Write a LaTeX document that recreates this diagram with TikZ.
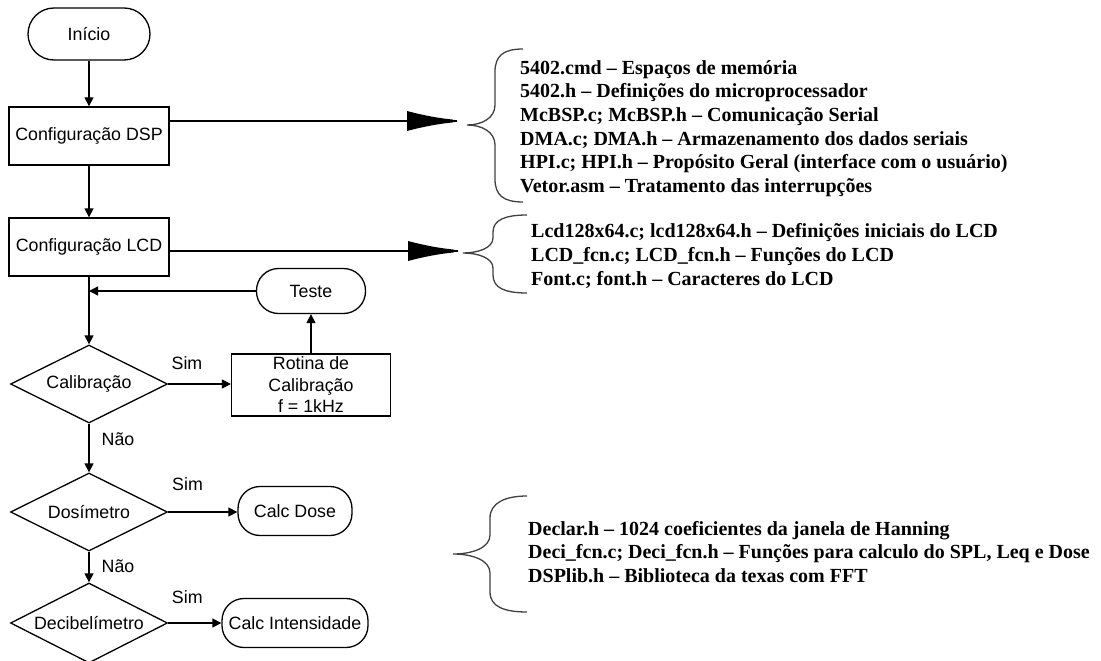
\documentclass[tikz,border=0pt]{standalone}
\usepackage{fontspec}
\setmainfont{Liberation Serif}
\setsansfont{Liberation Sans}
\usetikzlibrary{shapes.geometric,arrows.meta}

\begin{document}
\begin{tikzpicture}[
  x=1pt, y=-1pt,
  every node/.style={font=\sffamily\fontsize{17.8}{21.5}\selectfont},
  terminal/.style={draw, rectangle, rounded corners=22pt, line width=1.3pt,
    inner sep=0pt, minimum height=49pt},
  process/.style={draw, rectangle, line width=1.3pt, inner sep=0pt,
    minimum width=160pt, minimum height=58pt, align=center},
  decision/.style={draw, diamond, aspect=2, line width=1.3pt, inner sep=0pt,
    minimum width=157pt, minimum height=78pt},
  flow/.style={line width=1.3pt, -{Triangle[length=9pt,width=9pt]}},
  link/.style={line width=1.3pt},
  brace/.style={line width=1.3pt, draw=black!75},
  filelist/.style={anchor=west, align=left, inner sep=0pt,
    font=\bfseries\fontsize{20}{23.7}\selectfont},
  bighead/.pic={
    \fill (0,-10) .. controls (15,-6) and (30,-3) .. (45,-1.5) -- (50,0)
      -- (45,1.5) .. controls (30,3) and (15,6) .. (0,10) -- cycle;
  }
]
\useasboundingbox (0,0) rectangle (1101,661);

% main flow
\node[terminal, rounded corners=26pt, minimum width=122pt, minimum height=52pt] (inicio) at (89,34) {Início};
\node[process] (dsp) at (89,136) {Configuração DSP};
\node[process] (lcd) at (89,247) {Configuração LCD};
\node[decision] (calib) at (89,384) {Calibração};
\node[decision] (dosim) at (89,512) {Dosímetro};
\node[decision, minimum height=80pt] (decib) at (89,623) {Decibelímetro};

% side branches
\node[terminal, minimum width=109pt, minimum height=45pt] (teste) at (311,291) {Teste};
\node[process, minimum width=159pt, minimum height=62pt] (rotina) at (311,385) {Rotina de\\Calibração\\f = 1kHz};
\node[terminal, minimum width=114pt] (dose) at (295,511) {Calc Dose};
\node[terminal, minimum width=146pt] (intens) at (295,623) {Calc Intensidade};

\draw[flow] (inicio) -- (dsp);
\draw[flow] (dsp) -- (lcd);
\draw[flow] (lcd) -- (calib);
\draw[flow] (teste.west) -- (teste.west -| lcd.south);
\draw[flow] (rotina) -- (teste);
\draw[flow] (calib.east) -- node[pos=0.3, yshift=21pt] {Sim} (calib.east -| rotina.west);
\draw[flow] (calib) -- node[pos=0.32, xshift=29pt] {Não} (dosim);
\draw[flow] (dosim.east) -- node[pos=0.28, yshift=28pt] {Sim} (dosim.east -| dose.west);
\draw[flow] (dosim) -- node[pos=0.48, xshift=29pt] {Não} (decib);
\draw[flow] (decib.east) -- node[pos=0.36, yshift=26pt] {Sim} (decib.east -| intens.west);

% source files
\coordinate (dspend) at (457,121);
\coordinate (lcdend) at (458,251);
\draw[link] (dsp.east |- dspend) -- (dspend);
\pic at (407,121) {bighead};
\draw[link] (lcd.east |- lcdend) -- (lcdend);
\pic at (408,251) {bighead};

\draw[brace] (523,49) .. controls (503,49) and (495,56) .. (495,72) -- (495,105)
  .. controls (495,118) and (482,125) .. (467,125)
  .. controls (482,125) and (495,132) .. (495,145) -- (495,179)
  .. controls (495,195) and (503,202) .. (523,202);
\draw[brace] (527,215) .. controls (505,215) and (493,220) .. (493,232) -- (493,238)
  .. controls (493,248) and (478,253) .. (463,253)
  .. controls (478,253) and (493,258) .. (493,268) -- (493,275)
  .. controls (493,288) and (505,293) .. (527,293);
\draw[brace] (527,496) .. controls (505,496) and (490,503) .. (490,518) -- (490,535)
  .. controls (490,548) and (472,554) .. (453,554)
  .. controls (472,554) and (490,560) .. (490,573) -- (490,592)
  .. controls (490,607) and (505,612) .. (527,612);

\node[filelist] (dspfiles) at (520,128.5) {5402.cmd – Espaços de memória\\
  5402.h – Definições do microprocessador\\
  McBSP.c; McBSP.h – Comunicação Serial\\
  DMA.c; DMA.h – Armazenamento dos dados seriais\\
  HPI.c; HPI.h – Propósito Geral (interface com o usuário)\\
  Vetor.asm – Tratamento das interrupções};
\node[filelist] (lcdfiles) at (531,256) {Lcd128x64.c; lcd128x64.h – Definições iniciais do LCD\\
  LCD\_fcn.c; LCD\_fcn.h – Funções do LCD\\
  Font.c; font.h – Caracteres do LCD};
\node[filelist] (calcfiles) at (528,552) {Declar.h – 1024 coeficientes da janela de Hanning\\
  Deci\_fcn.c; Deci\_fcn.h – Funções para calculo do SPL, Leq e Dose\\
  DSPlib.h – Biblioteca da texas com FFT};
\end{tikzpicture}
\end{document}
